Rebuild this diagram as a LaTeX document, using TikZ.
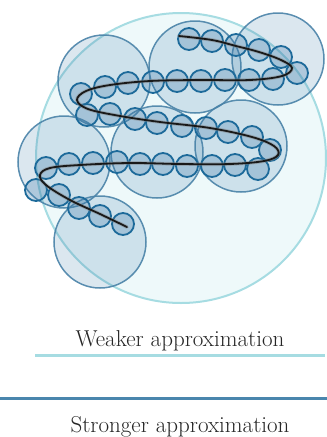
\documentclass[tikz,border=0pt]{standalone}
\usepackage{tikz}
\definecolor{bigfill}{HTML}{EEF9FA}
\definecolor{bigline}{HTML}{A6DCE2}
\definecolor{midblue}{HTML}{3A78A8}
\definecolor{midline}{HTML}{4A83A8}
\definecolor{smallline}{HTML}{1D6A9A}
\definecolor{strongline}{HTML}{4A86AD}
\tikzset{
  bigball/.style={fill=bigfill, draw=bigline, line width=2pt},
  midball/.style={fill=midblue, fill opacity=0.18, draw=midline, draw opacity=0.9, line width=1.5pt},
  smallball/.style={fill=midblue, fill opacity=0.28, draw=smallline, line width=1.8pt},
  lbl/.style={font=\fontsize{23}{27}\selectfont, text=black!85, anchor=center, inner sep=0pt}
}
\begin{document}
\begin{tikzpicture}[x=1pt,y=-1pt]
\useasboundingbox (0,0) rectangle (327,437);
% big enclosing ball
\draw[bigball] (181,158) circle (145);
% medium balls
\foreach \cx/\cy in {104/81, 195/67, 278/59, 241/146, 157/152, 64/162, 100/242}
  \draw[midball] (\cx,\cy) circle (46);
% small balls
\foreach \cx/\cy in {189/39, 212/41, 236/45, 259/50, 281/57, 297/73,
  273/79, 249/80, 225/80, 201/81, 177/81, 153/82, 128/83, 105/87, 81/94,
  87/115, 110/114, 135/119, 157/123, 182/126, 206/128, 228/132, 252/137, 270/150,
  258/169, 235/165, 212/166, 187/166, 163/164, 140/164, 117/162, 93/163, 69/164, 46/168,
  36/190, 59/195, 79/208, 100/216, 123/224}
  \draw[smallball] (\cx,\cy) circle (11);
% curve
\def\curvepts{(179,36) (212,40) (236,46) (259,52) (281,60) (292,68) (282,76) (250,80) (200,80) (150,81) (110,85) (86,91) (77,100) (88,109) (120,116) (160,122) (210,128) (252,137) (274,146) (278,155) (264,161) (230,164) (180,164) (130,163) (80,165) (50,168) (40,175) (46,185) (70,200) (100,214) (127,227)}
\draw[gray, opacity=0.45, line width=3.6pt, line cap=round] plot[smooth, tension=0.6] coordinates {\curvepts};
\draw[black!90, line width=1.8pt, line cap=round] plot[smooth, tension=0.6] coordinates {\curvepts};
% labels and lines
\node[lbl] (weak) at (180,341) {Weaker approximation};
\coordinate (w1) at (35,355);
\coordinate (w2) at (325,355);
\draw[bigline, line width=3pt] (w1) -- (w2);
\coordinate (s1) at (0,398);
\coordinate (s2) at (327,398);
\draw[strongline, line width=3pt] (s1) -- (s2);
\node[lbl] (strong) at (180,427) {Stronger approximation};
\end{tikzpicture}
\end{document}
